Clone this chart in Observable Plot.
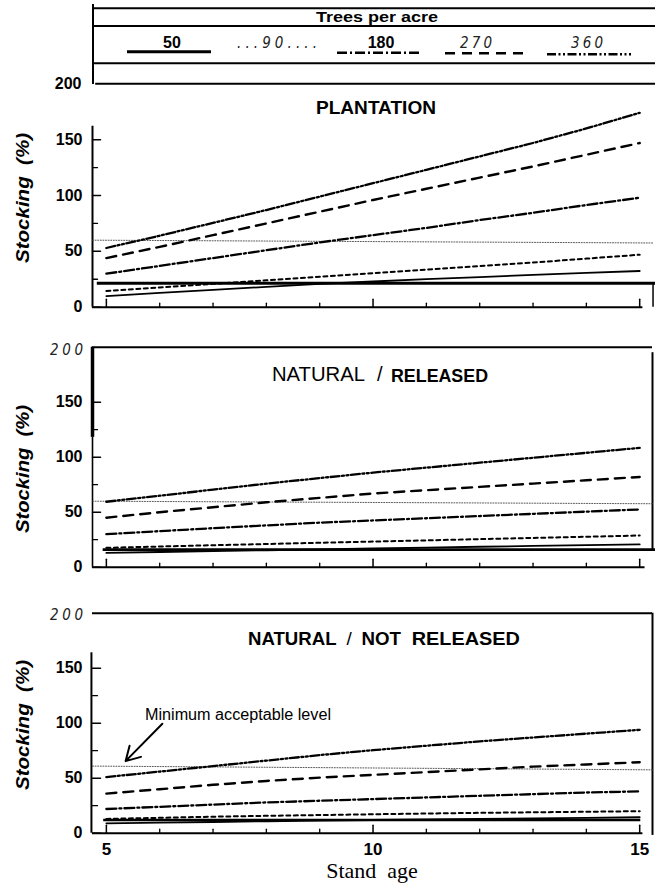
<!DOCTYPE html>
<html>
<head>
<meta charset="utf-8">
<script src="https://cdn.jsdelivr.net/npm/d3@7"></script>
<script src="https://cdn.jsdelivr.net/npm/@observablehq/plot@0.6"></script>
<style>
  html, body { margin: 0; padding: 0; background: #fff; }
  body { width: 655px; height: 889px; position: relative; overflow: hidden; }
  .panel { position: absolute; left: 0; width: 655px; }
</style>
</head>
<body>
<div id="p1" class="panel" style="top:0px"></div>
<div id="p2" class="panel" style="top:320px"></div>
<div id="p3" class="panel" style="top:582px"></div>
<script>
// ---------------- data ----------------
const years = [5, 6, 7, 8, 9, 10, 11, 12, 13, 14, 15];
const seriesNames = ["50", "90", "180", "270", "360"];
const legendTitle = "Trees per acre";

const plantation50  = [10, 12.8, 15.5, 18.2, 20.8, 23, 25.1, 27, 28.9, 30.7, 32.4];
const plantation90  = [14.5, 17.7, 20.9, 24.1, 27.3, 30.5, 33.6, 36.8, 40, 43.5, 47];
const plantation180 = [30, 37, 44, 51, 58, 64.5, 71, 78, 84.5, 91.5, 98];
const plantation270 = [44, 54, 64.5, 75, 85.5, 96, 106, 116, 126, 136.5, 147];
const plantation360 = [53, 64, 75.5, 87, 99, 111, 123, 135, 147, 160, 174];

const released50  = [13, 13.8, 14.6, 15.4, 16.2, 17, 17.8, 18.6, 19.3, 20, 20.7];
const released90  = [17.6, 18.8, 20, 21.1, 22.2, 23.3, 24.4, 25.5, 26.6, 27.7, 28.8];
const released180 = [30, 32.8, 35.5, 38, 40.5, 42.5, 44.5, 46.5, 48.5, 50.5, 52.5];
const released270 = [45, 50, 54.5, 59, 63, 67, 70, 73, 76, 79, 82];
const released360 = [59.5, 65, 70.5, 76, 81, 86, 90.5, 95, 99.5, 104, 108.5];

const notReleased50  = [9, 9.6, 10.2, 10.8, 11.4, 12, 12.5, 13, 13.5, 14, 14.5];
const notReleased90  = [13, 14, 15, 15.8, 16.5, 17.2, 17.9, 18.5, 19, 19.5, 20];
const notReleased180 = [22, 24, 26, 28, 29.5, 31, 32.5, 34, 35.5, 37, 38];
const notReleased270 = [36, 40, 44, 47.5, 50.5, 53, 55.5, 58, 60.5, 62.5, 64.5];
const notReleased360 = [51, 56, 61, 66, 71, 75.5, 79.5, 83.5, 87, 90.5, 94];

// heavy solid horizontal line in each panel
const flatLevels = [21.4, 16, 12];
// "minimum acceptable level" dotted line, value at left and right end
const minimumLevels = [[60, 57.5], [60, 57.7], [61, 57.6]];

const yTickLabels = [0, 50, 100, 150];
const yMinorTicks = [25, 75, 125];
const yTopLabel = "200";
const xTickLabels = [5, 10, 15];
const xMinorTicks = [6, 7, 8, 9, 11, 12, 13, 14];

const panelTitles = [["PLANTATION"], ["NATURAL", "/", "RELEASED"], ["NATURAL", "/", "NOT", "RELEASED"]];
const yTitle = "Stocking\u00a0\u00a0(%)";
const xTitle = "Stand\u00a0\u00a0age";
const annotationText = "Minimum acceptable level";
const annotationArrow = [{x1: 6.05, y1: 99.5, x2: 5.36, y2: 65.5}];

// ---------------- styles ----------------
const SANS = "'Liberation Sans', Arial, Helvetica, sans-serif";
const NARROW = "'Liberation Sans Narrow', 'DejaVu Sans Condensed', 'Liberation Sans', sans-serif";
const SERIF = "'Liberation Serif', 'Times New Roman', serif";
const lineStyle = {
  "50":  {strokeWidth: 1.8},
  "90":  {strokeWidth: 2.0, strokeDasharray: "4,3.5"},
  "180": {strokeWidth: 2.3, strokeDasharray: "10,3,2,3"},
  "270": {strokeWidth: 2.4, strokeDasharray: "10,7"},
  "360": {strokeWidth: 2.3, strokeDasharray: "9,2.5,2,2.5,2,2.5"}
};
const X0 = 4.74, X1 = 15.24;
const tickShape = {draw(context, l) { context.moveTo(0, 0); context.lineTo(0, -l); }};

function rowsFor(arrs) {
  return seriesNames.flatMap((s, i) => years.map((yr, j) => ({series: s, year: yr, value: arrs[i][j]})));
}

function tickMarks() {
  return [
    Plot.vector(yTickLabels, {y: d => d, frameAnchor: "left", rotate: 90, length: 8, anchor: "start", shape: tickShape, strokeWidth: 1.5}),
    Plot.vector(yMinorTicks, {y: d => d, frameAnchor: "left", rotate: 90, length: 5, anchor: "start", shape: tickShape, strokeWidth: 1.3}),
    Plot.vector(xTickLabels, {x: d => d, frameAnchor: "bottom", rotate: 0, length: 8, anchor: "start", shape: tickShape, strokeWidth: 1.5}),
    Plot.vector(xMinorTicks, {x: d => d, frameAnchor: "bottom", rotate: 0, length: 4, anchor: "start", shape: tickShape, strokeWidth: 1.3}),
    Plot.axisY({ticks: yTickLabels, tickSize: 0, tickPadding: 10, fontSize: 16, fontWeight: "bold", label: null, tickFormat: d => String(d)})
  ];
}

function seriesMarks(rows) {
  return seriesNames.map(s => Plot.line(rows.filter(d => d.series === s), {x: "year", y: "value", stroke: "#000", ...lineStyle[s]}));
}

function minLine(i) {
  const m = minimumLevels[i];
  return Plot.line([{x: X0, y: m[0]}, {x: X1, y: m[1]}], {x: "x", y: "y", stroke: "#444", strokeWidth: 0.9, strokeDasharray: "1,1.6"});
}

function addText(svg, x, y, txt, o = {}) {
  const t = d3.select(svg).append("text")
    .attr("x", x).attr("y", y).text(txt)
    .attr("font-family", o.family || SANS)
    .attr("font-size", o.size || 16)
    .attr("font-weight", o.weight || "normal")
    .attr("font-style", o.style || "normal")
    .attr("text-anchor", o.anchor || "start")
    .attr("fill", o.fill || "#000");
  if (o.len) t.attr("textLength", o.len).attr("lengthAdjust", o.adjust || "spacingAndGlyphs");
  if (o.rotate) t.attr("transform", `rotate(-90 ${x} ${y})`);
  return t;
}
function addLine(svg, x1, y1, x2, y2, o = {}) {
  const l = d3.select(svg).append("line")
    .attr("x1", x1).attr("y1", y1).attr("x2", x2).attr("y2", y2)
    .attr("stroke", "#000").attr("stroke-width", o.width || 2);
  if (o.dash) l.attr("stroke-dasharray", o.dash);
  return l;
}
const italic200 = {style: "italic", size: 15, family: NARROW, fill: "#222", len: 33, adjust: "spacing"};

const baseStyle = {fontFamily: SANS, overflow: "visible", background: "transparent", color: "#000"};

// ---------------- panel 1 : plantation ----------------
{
  const rows = rowsFor([plantation50, plantation90, plantation180, plantation270, plantation360]);
  const svg = Plot.plot({
    width: 655, height: 320, marginLeft: 92, marginRight: 3, marginTop: 83.3, marginBottom: 13.3,
    x: {domain: [X0, X1], axis: null},
    y: {domain: [0, 200]},
    style: baseStyle,
    marks: [
      Plot.ruleX([X0], {y1: 0, y2: 162, strokeWidth: 2}),
      Plot.ruleY([0], {x1: X0, x2: 15.06, strokeWidth: 2}),
      Plot.ruleY([200], {x1: 4.8, x2: 15.3, strokeWidth: 2}),
      Plot.ruleX([15.25], {y1: 0, y2: 22, strokeWidth: 1.5}),
      Plot.ruleY([flatLevels[0]], {x1: 4.83, x2: 15.3, strokeWidth: 3}),
      minLine(0),
      ...seriesMarks(rows),
      ...tickMarks(),
      Plot.text([200], {y: d => d, frameAnchor: "left", dx: -11, textAnchor: "end", fontWeight: "bold", fontSize: 16})
    ]
  });
  document.getElementById("p1").append(svg);

  // legend box
  addLine(svg, 93, 4, 93, 84);
  addLine(svg, 93, 8.3, 655, 8.3);
  addLine(svg, 93, 26, 655, 26);
  addLine(svg, 93, 63.3, 655, 63.3);
  addText(svg, 316, 21.7, legendTitle, {weight: "bold", size: 15, len: 122});
  const leg = {
    "50":  {cx: 172, bold: true, text: "50", line: [127, 211, 51.7], w: 3},
    "90":  {cx: 277, bold: false, text: "...90....", line: null},
    "180": {cx: 381, bold: true, text: "180", line: [337, 421, 52.7], w: 2.5},
    "270": {cx: 476, bold: false, text: "270", line: [445, 530, 53.3], w: 2.5},
    "360": {cx: 587, bold: false, text: "360", line: [547, 631, 54.3], w: 2.5}
  };
  for (const s of seriesNames) {
    const L = leg[s];
    if (L.bold) addText(svg, L.cx, 48.3, L.text, {weight: "bold", size: 16, anchor: "middle"});
    else addText(svg, L.cx, 48.3, L.text, {style: "italic", size: 15, anchor: "middle", family: NARROW, fill: "#222", len: s === "90" ? 80 : 32, adjust: "spacing"});
    if (L.line) addLine(svg, L.line[0], L.line[2], L.line[1], L.line[2], {width: L.w, dash: lineStyle[s].strokeDasharray});
  }
  addText(svg, 316, 113.5, panelTitles[0][0], {weight: "bold", size: 19, len: 120});
  addText(svg, 29, 198, yTitle, {style: "italic", weight: "bold", size: 19, anchor: "middle", rotate: true, len: 130});
}

// ---------------- panel 2 : natural / released ----------------
{
  const top = 320;
  const rows = rowsFor([released50, released90, released180, released270, released360]);
  const svg = Plot.plot({
    width: 655, height: 262, marginLeft: 92, marginRight: 3, marginTop: 26.7, marginBottom: 15.3,
    x: {domain: [X0, X1], axis: null},
    y: {domain: [0, 200]},
    style: baseStyle,
    marks: [
      Plot.ruleX([X0], {y1: 118, y2: 200, strokeWidth: 3.5}),
      Plot.ruleX([X0], {y1: 0, y2: 118, strokeWidth: 1.6}),
      Plot.ruleY([0], {x1: X0, x2: 15.1, strokeWidth: 2}),
      Plot.ruleY([200], {x1: X0, x2: X1, strokeWidth: 2}),
      Plot.ruleX([X1], {y1: 15, y2: 195, strokeWidth: 2}),
      Plot.ruleY([flatLevels[1]], {x1: 4.94, x2: 15.3, strokeWidth: 2.8}),
      minLine(1),
      ...seriesMarks(rows),
      ...tickMarks()
    ]
  });
  document.getElementById("p2").append(svg);
  addText(svg, 50, 355 - top, yTopLabel, italic200);
  addText(svg, 272, 380.5 - top, panelTitles[1][0], {size: 20, len: 93});
  addText(svg, 377, 380.5 - top, panelTitles[1][1], {size: 20});
  addText(svg, 391, 381.5 - top, panelTitles[1][2], {weight: "bold", size: 17.5, len: 97});
  addText(svg, 29, 469 - top, yTitle, {style: "italic", weight: "bold", size: 19, anchor: "middle", rotate: true, len: 128});
}

// ---------------- panel 3 : natural / not released ----------------
{
  const top = 582;
  const rows = rowsFor([notReleased50, notReleased90, notReleased180, notReleased270, notReleased360]);
  const svg = Plot.plot({
    width: 655, height: 307, marginLeft: 92, marginRight: 3, marginTop: 30.7, marginBottom: 56.3,
    x: {domain: [X0, X1]},
    y: {domain: [0, 200]},
    style: baseStyle,
    marks: [
      Plot.ruleX([4.72], {y1: 0, y2: 164, strokeWidth: 2}),
      Plot.ruleY([0], {x1: X0, x2: 15.06, strokeWidth: 2}),
      Plot.ruleY([200], {x1: X0, x2: X1, strokeWidth: 2}),
      Plot.ruleX([X1], {y1: -2, y2: 200, strokeWidth: 2}),
      Plot.ruleY([flatLevels[2]], {x1: 4.95, x2: 15.02, strokeWidth: 2.5}),
      minLine(2),
      ...seriesMarks(rows),
      ...tickMarks(),
      Plot.axisX({ticks: xTickLabels, tickSize: 0, tickPadding: 10, fontSize: 17, fontWeight: "bold", label: null, tickFormat: d => String(d)}),
      Plot.arrow(annotationArrow, {x1: "x1", y1: "y1", x2: "x2", y2: "y2", strokeWidth: 2, headLength: 12, bend: 0})
    ]
  });
  document.getElementById("p3").append(svg);
  addText(svg, 50, 620 - top, yTopLabel, italic200);
  addText(svg, 248, 645 - top, panelTitles[2][0], {weight: "bold", size: 18, len: 88.5});
  addText(svg, 346.5, 645 - top, panelTitles[2][1], {size: 19});
  addText(svg, 361.5, 645 - top, panelTitles[2][2], {weight: "bold", size: 18, len: 39.5});
  addText(svg, 411.7, 645 - top, panelTitles[2][3], {weight: "bold", size: 18, len: 108.3});
  addText(svg, 145, 720 - top, annotationText, {size: 16, len: 186});
  addText(svg, 29, 725 - top, yTitle, {style: "italic", weight: "bold", size: 19, anchor: "middle", rotate: true, len: 130});
  addText(svg, 372, 878 - top, xTitle, {family: SERIF, size: 22, anchor: "middle"});
}
</script>
</body>
</html>
